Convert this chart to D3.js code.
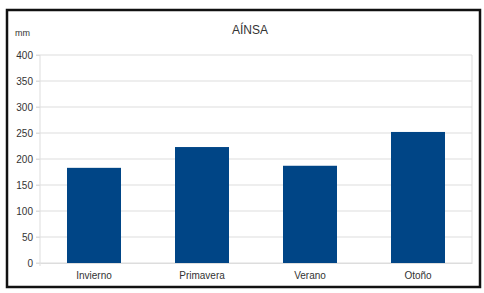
<!DOCTYPE html>
<html>
<head>
<meta charset="utf-8">
<script src="https://cdn.jsdelivr.net/npm/d3@7"></script>
<style>
  body { margin: 0; background: #fff; }
  svg { display: block; font-family: "Liberation Sans", Arial, sans-serif; }
</style>
</head>
<body>
<div id="chart"></div>
<script>
var width = 484;
var height = 293;

var seasons = ['Invierno', 'Primavera', 'Verano', 'Otoño'];
var rainfall = [183, 223, 187, 252];
var yTicks = [0, 50, 100, 150, 200, 250, 300, 350, 400];

var margin = {top: 55, right: 12, bottom: 30, left: 40};

var svg = d3.select('#chart').append('svg')
    .attr('width', width)
    .attr('height', height);

svg.append('rect')
  .attr('x', 7).attr('y', 10)
  .attr('width', 473).attr('height', 277)
  .attr('fill', '#fff')
  .attr('stroke', '#111')
  .attr('stroke-width', 2.5);

var x = d3.scaleBand()
    .domain(seasons)
    .range([margin.left, width - margin.right])
    .paddingInner(0.5)
    .paddingOuter(0.25);

var y = d3.scaleLinear()
    .domain([0, 400])
    .range([height - margin.bottom, margin.top]);

// grid
svg.append('g')
  .selectAll('line')
  .data(yTicks)
  .enter().append('line')
  .attr('x1', margin.left - 4)
  .attr('x2', width - margin.right)
  .attr('y1', function(d){ return y(d); })
  .attr('y2', function(d){ return y(d); })
  .attr('stroke', '#ddd')
  .attr('stroke-width', 1);

svg.append('line')
  .attr('x1', margin.left).attr('x2', margin.left)
  .attr('y1', y(400)).attr('y2', y(0) + 3)
  .attr('stroke', '#ddd');
svg.append('line')
  .attr('x1', width - margin.right).attr('x2', width - margin.right)
  .attr('y1', y(400)).attr('y2', y(0))
  .attr('stroke', '#ddd');

var yAxis = svg.append('g')
  .attr('transform', 'translate(' + margin.left + ',0)')
  .call(d3.axisLeft(y).tickValues(yTicks).tickSize(4).tickPadding(3));
yAxis.select('.domain').remove();
yAxis.selectAll('line').attr('stroke', '#ddd');
yAxis.selectAll('text').attr('fill', '#333').style('font-size', '10px');

var xAxis = svg.append('g')
  .attr('transform', 'translate(0,' + y(0) + ')')
  .call(d3.axisBottom(x).tickSize(0).tickPadding(9));
xAxis.select('.domain').attr('stroke', '#ddd');
xAxis.selectAll('text').attr('fill', '#333').style('font-size', '10px');

svg.append('g')
  .selectAll('rect')
  .data(rainfall)
  .enter().append('rect')
  .attr('x', function(d, i){ return x(seasons[i]); })
  .attr('width', x.bandwidth())
  .attr('y', function(d){ return y(d); })
  .attr('height', function(d){ return y(0) - y(d); })
  .attr('fill', '#004586');

svg.append('text')
  .attr('x', 250).attr('y', 34)
  .attr('text-anchor', 'middle')
  .attr('fill', '#333')
  .style('font-size', '12px')
  .text('AÍNSA');

svg.append('text')
  .attr('x', 15).attr('y', 36)
  .attr('fill', '#333')
  .style('font-size', '9px')
  .text('mm');
</script>
</body>
</html>
